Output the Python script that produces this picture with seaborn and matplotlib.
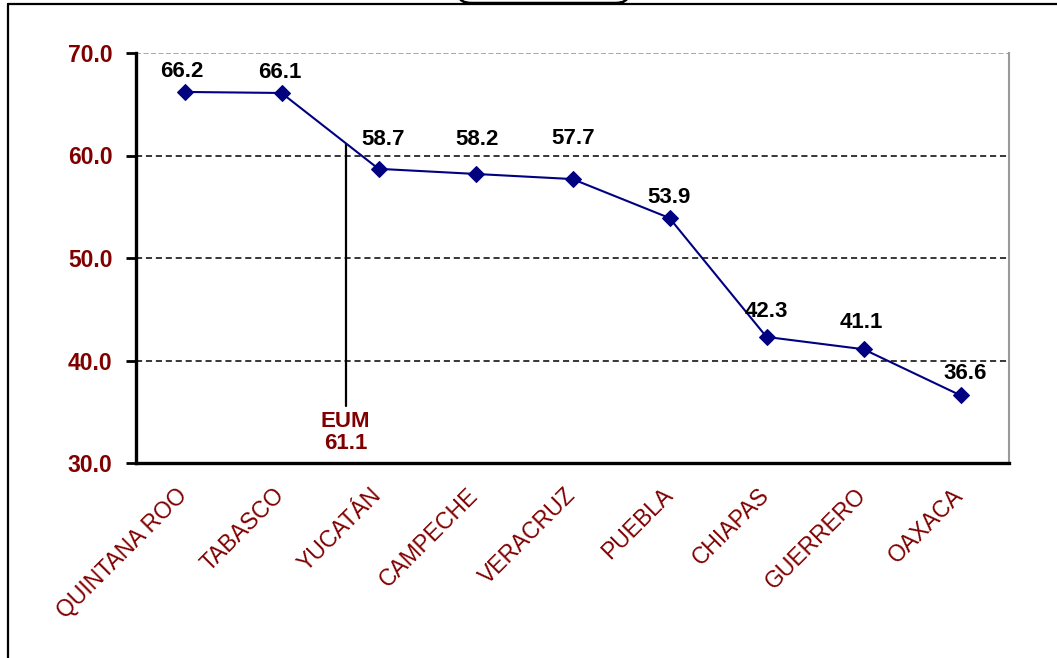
import matplotlib
matplotlib.use("Agg")
import matplotlib.pyplot as plt
from matplotlib.patches import FancyBboxPatch
from matplotlib.lines import Line2D
import pandas as pd
import numpy as np
import seaborn as sns

# data
states = ["QUINTANA ROO", "TABASCO", "YUCATÁN", "CAMPECHE", "VERACRUZ",
          "PUEBLA", "CHIAPAS", "GUERRERO", "OAXACA"]
values = [66.2, 66.1, 58.7, 58.2, 57.7, 53.9, 42.3, 41.1, 36.6]
eum_label = "EUM"
eum_value = 61.1
y_ticks = [30.0, 40.0, 50.0, 60.0, 70.0]

# label offsets from each marker (points)
label_dx = [-2, -1.5, 3, 1, 0.5, 0, 0, -1.5, 3.5]
label_dy = [15, 15, 21, 24.5, 29, 14.5, 18, 19, 16]

dark_red = "#800000"
navy = "#000080"

sns.set_style("white")
plt.rcParams["font.family"] = ["Liberation Sans", "DejaVu Sans"]

df = pd.DataFrame({"state": states, "value": values})
df["pos"] = np.arange(len(df))

fig = plt.figure(figsize=(10.57, 6.58), dpi=100)
ax = fig.add_axes([136 / 1057, 1 - 463 / 658, 873 / 1057, 410 / 658])

# grid lines
for v in y_ticks[1:-1]:
    ax.axhline(v, color="black", lw=1.1, ls=(0, (4, 2.5)), zorder=1)
ax.axhline(y_ticks[-1], color="#999999", lw=1.2, ls=(0, (3, 1.5)), zorder=1)

sns.lineplot(data=df, x="pos", y="value", ax=ax, color=navy, lw=1.5,
             marker="D", markersize=8, markeredgecolor=navy, sort=False, zorder=3)

for i, (x, y) in enumerate(zip(df["pos"], df["value"])):
    ax.annotate(f"{y:.1f}", (x, y), xytext=(label_dx[i], label_dy[i]), textcoords="offset points",
                ha="center", va="center", fontsize=16, fontweight="bold", color="black")

# EUM reference line
eum_x = 1.66
ax.plot([eum_x, eum_x], [35.6, eum_value], color="black", lw=1.6, zorder=2)
ax.text(eum_x, 33.0, f"{eum_label}\n{eum_value:.1f}", ha="center", va="center",
        fontsize=16, fontweight="bold", color=dark_red, linespacing=1.05)

ax.set_xlim(-0.5, len(states) - 0.5)
ax.set_ylim(30, 70)
ax.set_xlabel("")
ax.set_ylabel("")

# labels sit a little right of the category centre, as in the original
ax.set_xticks(df["pos"] + 0.08)
ax.set_xticklabels(states, rotation=45, ha="right", rotation_mode="default",
                   fontsize=16.5, color=dark_red)
ax.set_xticks(np.arange(-0.5, len(states), 1), minor=True)
ax.tick_params(axis="x", which="major", length=0, pad=15)
ax.tick_params(axis="x", which="minor", length=7, width=2, color="black", direction="out")

ax.set_yticks(y_ticks)
ax.set_yticklabels([f"{t:.1f}" for t in y_ticks], fontsize=16.5, fontweight="bold", color=dark_red)
ax.tick_params(axis="y", length=7, width=2, color="black", direction="out", pad=10, left=True)

for side in ["left", "bottom"]:
    ax.spines[side].set_color("black")
    ax.spines[side].set_linewidth(2.4)
ax.spines["right"].set_color("#999999")
ax.spines["right"].set_linewidth(1.5)
ax.spines["top"].set_visible(False)

# outer frame and cut-off title box
fig.add_artist(Line2D([8 / 1057, 8 / 1057], [0, 1 - 4 / 658], transform=fig.transFigure,
                      color="black", lw=1.6))
fig.add_artist(Line2D([8 / 1057, 1], [1 - 4 / 658, 1 - 4 / 658], transform=fig.transFigure,
                      color="black", lw=1.6))
box = FancyBboxPatch((459 / 1057, 1 - 3 / 658), 169 / 1057, 40 / 658,
                     boxstyle="round,pad=0,rounding_size=0.012",
                     transform=fig.transFigure, facecolor="white", edgecolor="black",
                     lw=1.8, clip_on=False)
fig.add_artist(box)

fig.savefig("out.png", dpi=100)
